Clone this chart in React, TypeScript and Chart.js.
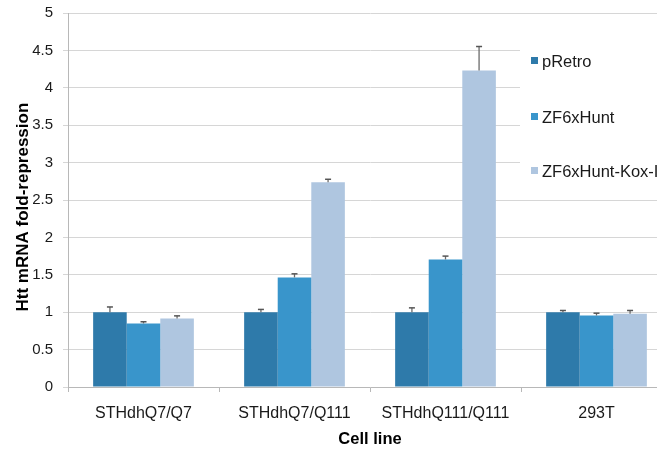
import React, { useEffect, useRef } from "react";
import { Chart, registerables } from "chart.js";

Chart.register(...registerables);

const categories = ["STHdhQ7/Q7", "STHdhQ7/Q111", "STHdhQ111/Q111", "293T"];
const seriesNames = ["pRetro", "ZF6xHunt", "ZF6xHunt-Kox-I"];
const pRetro = [1.0, 1.0, 1.0, 1.0];
const zf6xHunt = [0.85, 1.465, 1.705, 0.956];
const zf6xHuntKox = [0.916, 2.737, 4.232, 0.978];
const pRetroErr = [0.07, 0.037, 0.058, 0.023];
const zf6xHuntErr = [0.022, 0.048, 0.045, 0.031];
const zf6xHuntKoxErr = [0.035, 0.04, 0.32, 0.045];
const yTicks = [0, 0.5, 1, 1.5, 2, 2.5, 3, 3.5, 4, 4.5, 5];

const colors = ["#2e7aaa", "#3995cb", "#afc6e0"];
const FONT = "'Liberation Sans', Arial, Helvetica, sans-serif";

export default function App() {
  const ref = useRef<HTMLCanvasElement | null>(null);

  useEffect(() => {
    const canvas = ref.current;
    if (!canvas) return;
    const errs = [pRetroErr, zf6xHuntErr, zf6xHuntKoxErr];

    const errorBarPlugin = {
      id: "errorBars",
      afterDatasetsDraw(chart: any) {
        const ctx = chart.ctx;
        const y = chart.scales.y;
        ctx.save();
        chart.data.datasets.forEach((ds: any, di: number) => {
          const meta = chart.getDatasetMeta(di);
          meta.data.forEach((bar: any, i: number) => {
            const v = ds.data[i];
            const top = y.getPixelForValue(v + errs[di][i]);
            const base = y.getPixelForValue(v);
            ctx.strokeStyle = "#6a6a6a";
            ctx.lineWidth = 1.3;
            ctx.beginPath();
            ctx.moveTo(bar.x, base);
            ctx.lineTo(bar.x, top);
            ctx.stroke();
            ctx.strokeStyle = "#555";
            ctx.lineWidth = 1.5;
            ctx.beginPath();
            ctx.moveTo(bar.x - 3, top);
            ctx.lineTo(bar.x + 3, top);
            ctx.stroke();
          });
        });
        ctx.restore();
      },
    };

    const legendPlugin = {
      id: "overlayLegend",
      afterDraw(chart: any) {
        const ctx = chart.ctx;
        ctx.save();
        ctx.fillStyle = "#ffffff";
        ctx.fillRect(520, 22, 160, 168);
        const ys = [62, 118, 172];
        ctx.font = "16.5px " + FONT;
        ctx.textBaseline = "middle";
        ctx.textAlign = "left";
        chart.data.datasets.forEach((ds: any, i: number) => {
          ctx.fillStyle = colors[i];
          ctx.fillRect(531, ys[i] - 5, 7, 7);
          ctx.fillStyle = "#1a1a1a";
          ctx.fillText(ds.label, 542, ys[i]);
        });
        ctx.restore();
      },
    };

    const chart = new Chart(canvas, {
      type: "bar",
      data: {
        labels: categories,
        datasets: [
          { label: seriesNames[0], data: pRetro, backgroundColor: colors[0] },
          { label: seriesNames[1], data: zf6xHunt, backgroundColor: colors[1] },
          { label: seriesNames[2], data: zf6xHuntKox, backgroundColor: colors[2] },
        ],
      },
      options: {
        responsive: false,
        animation: false,
        devicePixelRatio: 1,
        layout: { padding: { top: 13, right: 0, bottom: 0, left: 0 } },
        datasets: {
          bar: { categoryPercentage: 0.667, barPercentage: 1.0 },
        },
        plugins: {
          legend: { display: false },
          tooltip: { enabled: false },
        },
        scales: {
          x: {
            grid: {
              offset: true,
              drawOnChartArea: false,
              drawTicks: true,
              tickLength: 5,
              color: "#b8b8b8",
            },
            border: { color: "#b8b8b8" },
            ticks: {
              color: "#1a1a1a",
              font: { family: FONT, size: 16 },
              padding: 12,
              maxRotation: 0,
            },
            title: {
              display: true,
              text: "Cell line",
              color: "#000",
              font: { family: FONT, size: 16.5, weight: "bold" },
              padding: { top: 0, bottom: 0 },
            },
            afterFit(scale: any) {
              scale.height = 62;
            },
          },
          y: {
            min: 0,
            max: 5,
            afterBuildTicks(scale: any) {
              scale.ticks = yTicks.map((v) => ({ value: v }));
            },
            grid: {
              color: "#d6d6d6",
              tickLength: 5,
              drawTicks: true,
            },
            border: { color: "#b8b8b8" },
            ticks: {
              color: "#1a1a1a",
              font: { family: FONT, size: 15 },
              padding: 10,
              callback: (v: any) => String(Number(v)),
            },
            title: {
              display: true,
              text: "Htt mRNA fold-repression   ",
              color: "#000",
              font: { family: FONT, size: 17, weight: "bold" },
              padding: { top: 13, bottom: 0 },
            },
            afterFit(scale: any) {
              scale.width = 68;
              scale.paddingTop = 0;
              scale.paddingBottom = 0;
            },
          },
        },
      },
      plugins: [errorBarPlugin, legendPlugin],
    });
    return () => chart.destroy();
  }, []);

  return (
    <div
      style={{
        position: "fixed",
        left: 0,
        top: 0,
        width: 657,
        height: 449,
        overflow: "hidden",
        background: "#ffffff",
      }}
    >
      <canvas
        ref={ref}
        width={672}
        height={449}
        style={{ display: "block", width: 672, height: 449 }}
      />
    </div>
  );
}
